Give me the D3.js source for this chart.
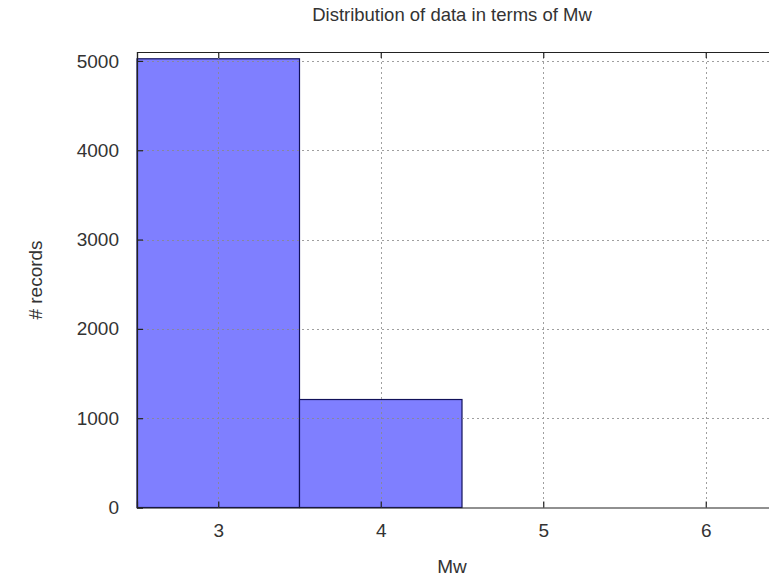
<!DOCTYPE html>
<html>
<head>
<meta charset="utf-8">
<script src="https://cdn.jsdelivr.net/npm/d3@7"></script>
<style>
  body { margin: 0; background: #fff; }
  text { font-family: "Liberation Sans", Arial, sans-serif; fill: #333; }
</style>
</head>
<body>
<script>
// histogram bins (Mw) and counts
var bins = [3, 4];
var counts = [5024, 1209];
var xTicks = [3, 4, 5, 6];
var yTicks = [0, 1000, 2000, 3000, 4000, 5000];

var width = 769, height = 580;
var plotLeft = 137, plotTop = 52, plotBottom = 507.5;

var svg = d3.select("body").append("svg")
    .attr("width", width)
    .attr("height", height);

var x = d3.scaleLinear().domain([2.5, 6.5]).range([plotLeft, plotLeft + 4 * 162.5]);
var y = d3.scaleLinear().domain([0, 5100]).range([plotBottom, plotTop]);

var plotRight = x(6.5);

// bars
svg.append("g")
  .selectAll("rect")
  .data(bins)
  .enter()
  .append("rect")
  .attr("x", function(d) { return x(d - 0.5); })
  .attr("y", function(d, i) { return y(counts[i]); })
  .attr("width", function(d) { return x(d + 0.5) - x(d - 0.5); })
  .attr("height", function(d, i) { return plotBottom - y(counts[i]); })
  .attr("fill", "#7f7fff")
  .attr("stroke", "#11115a")
  .attr("stroke-width", 1.2);

// grid on top of bars
var grid = svg.append("g")
  .attr("stroke", "#888")
  .attr("stroke-width", 1)
  .attr("stroke-dasharray", "2,3")
  .attr("opacity", 0.8);

grid.selectAll("line.h")
  .data(yTicks.slice(1))
  .enter()
  .append("line")
  .attr("x1", plotLeft).attr("x2", plotRight)
  .attr("y1", function(d) { return Math.round(y(d)) + 0.5; })
  .attr("y2", function(d) { return Math.round(y(d)) + 0.5; });

grid.selectAll("line.v")
  .data(xTicks)
  .enter()
  .append("line")
  .attr("y1", plotTop).attr("y2", plotBottom)
  .attr("x1", function(d) { return Math.round(x(d)) + 0.5; })
  .attr("x2", function(d) { return Math.round(x(d)) + 0.5; });

// axes (ticks pointing inward)
var xAxis = d3.axisBottom(x).tickValues(xTicks).tickSize(-6).tickPadding(16).tickFormat(d3.format("d"));
var xTop = d3.axisTop(x).tickValues(xTicks).tickSize(-6).tickFormat("");
var yAxis = d3.axisLeft(y).tickValues(yTicks).tickSize(-6).tickPadding(18).tickFormat(d3.format("d"));

function styleAxis(g) {
  g.select(".domain").attr("stroke", "#222").attr("stroke-width", 1.2);
  g.selectAll(".tick line").attr("stroke", "#222").attr("stroke-width", 1.2);
  g.selectAll(".tick text").style("font-size", "19px")
    .style("font-family", "Liberation Sans, Arial, sans-serif");
}

svg.append("g").attr("transform", "translate(0," + plotBottom + ")").call(xAxis).call(styleAxis);
svg.append("g").attr("transform", "translate(0," + plotTop + ")").call(xTop).call(styleAxis);
svg.append("g").attr("transform", "translate(" + plotLeft + ",0)").call(yAxis).call(styleAxis);

// titles
svg.append("text")
  .attr("x", 452).attr("y", 21)
  .attr("text-anchor", "middle")
  .style("font-size", "18.5px")
  .text("Distribution of data in terms of Mw");

svg.append("text")
  .attr("x", 452).attr("y", 573)
  .attr("text-anchor", "middle")
  .style("font-size", "19px")
  .text("Mw");

svg.append("text")
  .attr("transform", "translate(42,280) rotate(-90)")
  .attr("text-anchor", "middle")
  .style("font-size", "19px")
  .text("# records");
</script>
</body>
</html>
